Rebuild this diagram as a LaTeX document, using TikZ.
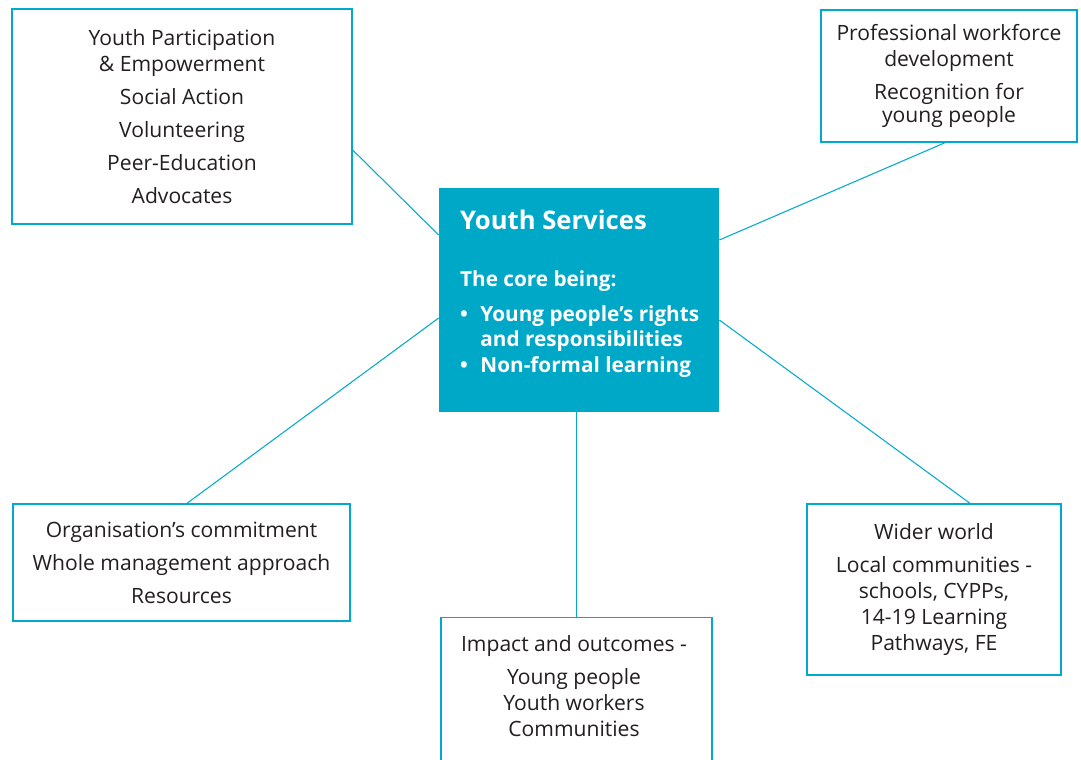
\documentclass[tikz,border=0pt]{standalone}
\usepackage{fontspec}
\setmainfont{Open Sans}
\usepackage{xcolor}
\usepackage{tikz}
\usetikzlibrary{positioning,calc}
\definecolor{servicecyan}{RGB}{0,168,200}
\definecolor{linkcyan}{RGB}{0,170,205}
\definecolor{inkgrey}{RGB}{35,31,32}

\begin{document}
\begin{tikzpicture}[x=0.02cm, y=-0.02cm,
    box/.style={rectangle, draw=linkcyan, line width=0.8pt, fill=white, align=center, text=inkgrey, font=\fontsize{12}{14.8}\selectfont},
    link/.style={draw=linkcyan, line width=0.6pt}
]
\useasboundingbox (0,0) rectangle (1081,760);
\clip (0,0) rectangle (1081,760);

% Outer boxes
\node[box, minimum width=6.8cm, minimum height=4.3cm] (partic) at (182,116.5)
  {Youth Participation\\ \& Empowerment\\[4pt] Social Action\\[4pt] Volunteering\\[4pt] Peer-Education\\[4pt] Advocates};
\node[box, minimum width=5.12cm, minimum height=2.64cm] (workforce) at (949,76)
  {Professional workforce\\ development\\[4pt] Recognition for\\[-2pt] young people};
\node[box, minimum width=6.74cm, minimum height=2.34cm] (commit) at (181.5,562.5)
  {Organisation’s commitment\\[4pt] Whole management approach\\[4pt] Resources};
\node[box, minimum width=5.08cm, minimum height=3.42cm] (wider) at (934,589.5)
  {Wider world\\[4pt] Local communities -\\ schools, CYPPs,\\ 14-19 Learning\\ Pathways, FE};
\node[box, anchor=north, minimum width=5.42cm, minimum height=4cm] (impact) at (576.5,617) {};
\node[box, draw=none, fill=none, anchor=north] (impacttext) at (574,629)
  {Impact and outcomes -\\[4pt] Young people\\ Youth workers\\ Communities};

% Core box
\node[rectangle, fill=servicecyan, minimum width=5.6cm, minimum height=4.48cm] (core) at (579,300) {};
\node[anchor=north west, text=white, align=left, font=\bfseries\fontsize{11.8}{14.5}\selectfont] (coretext) at (454,204)
  {{\fontsize{14.6}{18}\selectfont Youth Services}\\[18pt]
   The core being:\\[5pt]
   \textbullet\hspace{0.6em}Young people’s rights\\
   \hphantom{\textbullet\hspace{0.6em}}and responsibilities\\
   \textbullet\hspace{0.6em}Non-formal learning};

% Links
\draw[link] ([yshift=-0.67cm]partic.east) -- ([yshift=1.3cm]core.west);
\draw[link] ([xshift=-0.08cm]workforce.south) -- ([yshift=1.2cm]core.east);
\draw[link] ([xshift=0.11cm]commit.north) -- ([yshift=-0.36cm]core.west);
\draw[link] (impact.north |- core.south) -- (impact.north);
\draw[link] ([yshift=-0.4cm]core.east) -- ([xshift=0.72cm]wider.north);

\end{tikzpicture}
\end{document}
